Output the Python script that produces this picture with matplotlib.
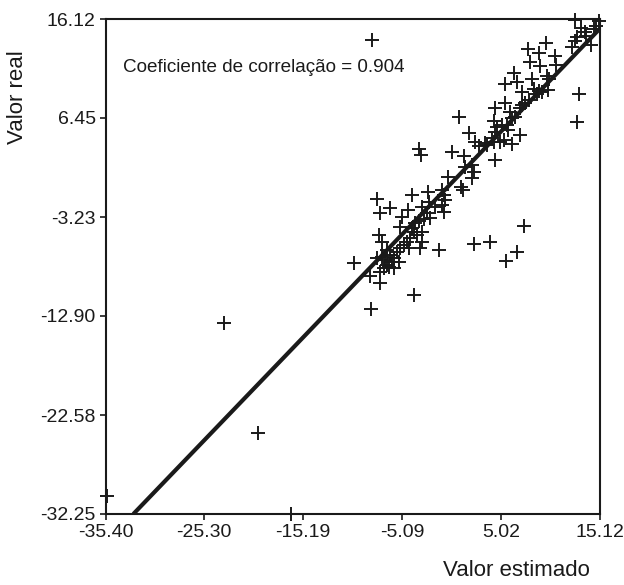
import matplotlib
matplotlib.use("Agg")
import matplotlib.pyplot as plt

# Data (estimated value, real value)
est = [-8.10, -23.28, -19.82, -35.20, -16.46, -9.94, -8.21, -3.83, 12.98, 12.78,
       7.38, 3.91, 2.28, 6.66, 5.54, 0.76, -7.60, -7.29, -6.27, -4.44,
       -4.03, -3.32, -3.11, 12.57, 15.05, 13.18, 13.59, 13.69, 14.51, 14.81,
       12.78, 12.57, 12.27, 14.30, 9.62, 8.90, 7.78, 10.53, 9.01, 10.64,
       7.99, 9.72, 9.92, 8.19, 6.36, 6.66, 5.44, 7.17, 8.40, 8.90,
       9.21, 9.82, 8.70, 5.44, 4.42, 7.17, 7.48, 7.89, 6.97, 5.95,
       6.15, 6.46, 4.32, 4.63, 5.14, 5.65, 5.75, 4.42, 6.97, 5.34,
       4.93, 4.12, 2.39, 6.15, 3.61, 1.78, 2.79, 3.40, 4.32, 0.04,
       1.27, 4.42, 2.08, 2.28, 2.08, 1.37, -0.36, 0.96, 1.17, -2.40,
       -0.98, -0.77, -0.67, -0.98, -0.77, -2.30, -3.01, -2.50, -2.81, -2.20,
       -3.32, -5.05, -3.73, -4.03, -5.25, -3.01, -3.01, -3.22, -1.28, -4.34,
       -7.39, -7.09, -7.09, -6.78, -6.27, -5.86, -5.56, -5.25, -4.85, -4.54,
       -4.23, -5.35, -6.37, -6.88, -5.86, -7.29, -8.31, -7.29, -3.52, -1.69,
       -3.83, -6.58, -7.59, -6.07, -6.58]
real = [14.06, -13.57, -24.29, -30.48, -32.25, -7.77, -12.19, -10.82, 8.75, 6.09,
        -4.13, -5.71, -5.90, -6.69, -7.57, 6.58, -1.48, -2.85, -2.36, -2.56,
        -1.08, 3.44, 2.85, 16.05, 15.92, 15.24, 14.84, 14.45, 15.14, 15.43,
        14.35, 13.96, 13.37, 13.56, 13.76, 12.78, 13.17, 12.48, 11.50, 11.60,
        11.89, 10.52, 10.22, 10.22, 10.81, 9.93, 9.73, 8.94, 9.24, 9.04,
        8.94, 9.14, 8.75, 7.96, 7.47, 7.76, 7.96, 8.16, 7.47, 7.08,
        6.49, 6.58, 6.19, 5.60, 5.80, 5.80, 5.31, 5.11, 4.81, 4.32,
        4.13, 4.52, 4.13, 3.93, 3.83, 5.01, 3.73, 4.03, 4.13, 3.14,
        2.75, 2.36, 1.86, 1.18, 0.59, 1.67, 0.69, -0.30, -0.59, -0.79,
        -0.59, -1.08, -1.58, -2.07, -2.76, -1.77, -2.26, -2.85, -3.44, -3.35,
        -3.64, -3.25, -3.84, -4.33, -4.23, -4.72, -5.71, -6.30, -6.49, -6.30,
        -5.02, -5.71, -7.18, -7.47, -6.98, -7.28, -6.69, -6.30, -6.00, -5.71,
        -5.31, -7.67, -8.16, -8.26, -8.26, -8.65, -8.95, -9.64, -5.02, -2.26,
        -4.72, -6.49, -7.28, -7.67, -7.87]

line_x = [-32.55, 15.12]
line_y = [-32.25, 15.14]

x_ticks = [-35.40, -25.30, -15.19, -5.09, 5.02, 15.12]
y_ticks = [-32.25, -22.58, -12.90, -3.23, 6.45, 16.12]
x_labels = ["-35.40", "-25.30", "-15.19", "-5.09", "5.02", "15.12"]
y_labels = ["-32.25", "-22.58", "-12.90", "-3.23", "6.45", "16.12"]

plt.rcParams['font.family'] = ['Liberation Sans', 'DejaVu Sans']
plt.rcParams['axes.unicode_minus'] = False
fig = plt.figure(figsize=(6.24, 5.85), dpi=100)
ax = fig.add_axes([105.5/624, 1 - 514/585, 494/624, 495/585])

ax.plot(line_x, line_y, color='#1a1a1a', lw=3.0, solid_capstyle='butt', zorder=2)
ax.scatter(est, real, marker='+', s=110, color='#1a1a1a', linewidths=1.4, zorder=3, clip_on=False)

ax.set_xlim(x_ticks[0], x_ticks[-1])
ax.set_ylim(y_ticks[0], y_ticks[-1])
ax.set_xticks(x_ticks)
ax.set_xticklabels(x_labels)
ax.set_yticks(y_ticks)
ax.set_yticklabels(y_labels)
ax.tick_params(direction='out', length=4, width=1.2, labelsize=14, colors='#1a1a1a', pad=3)
for s in ax.spines.values():
    s.set_linewidth(1.5)
    s.set_color('#1a1a1a')

ax.text(0.035, 0.903, "Coeficiente de correlação = 0.904", transform=ax.transAxes,
        fontsize=13.6, color='#1a1a1a', ha='left', va='center')

fig.text(18/624, 1 - 97/585, "Valor real", rotation=90, ha='center', va='center',
         fontsize=16, color='#1a1a1a')
fig.text(516/624, 1 - 570/585, "Valor estimado", ha='center', va='center',
         fontsize=16, color='#1a1a1a')

fig.savefig("out.png", dpi=100)
